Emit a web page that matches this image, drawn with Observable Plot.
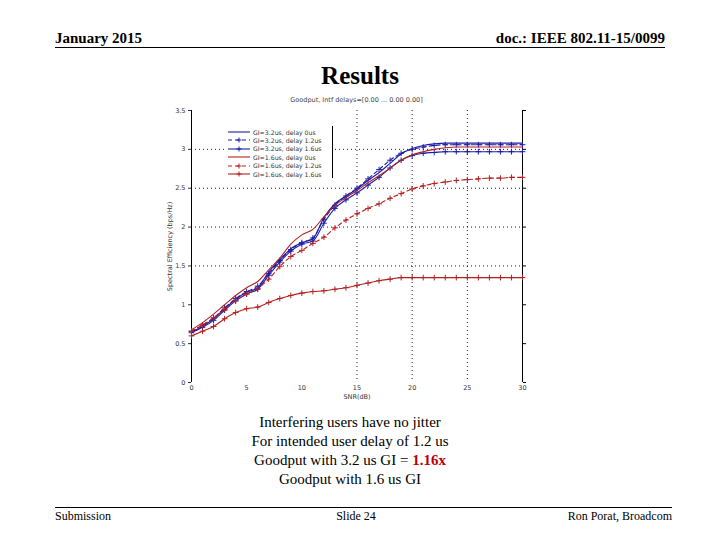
<!DOCTYPE html>
<html><head><meta charset="utf-8">
<script src="https://cdn.jsdelivr.net/npm/d3@7"></script>
<script src="https://cdn.jsdelivr.net/npm/@observablehq/plot@0.6"></script>
<style>
body{margin:0;width:720px;height:540px;background:#fff;position:relative;overflow:hidden;font-family:"Liberation Serif","Times New Roman",serif;}
.abs{position:absolute;}
#legend{position:absolute;left:224px;top:126px;width:108px;height:52px;background:#fff;border-right:1px solid #000;font-family:"DejaVu Sans",sans-serif;font-size:6.2px;color:#333;}
#legend .row{position:absolute;left:4px;height:8px;display:flex;align-items:center;}
#legend svg{margin-right:3px;}
</style></head>
<body>
<div class="abs" style="left:55px;top:30px;font-size:15px;font-weight:bold;">January 2015</div>
<div class="abs" style="right:55px;top:30px;font-size:15px;font-weight:bold;">doc.: IEEE 802.11-15/0099</div>
<div class="abs" style="left:55px;top:47px;width:610px;height:0;border-top:1.5px solid #000;"></div>
<div class="abs" style="left:0;width:720px;top:62px;text-align:center;font-size:25px;font-weight:bold;">Results</div>
<div class="abs" style="left:191px;width:331px;top:96px;text-align:center;font-family:'DejaVu Sans',sans-serif;font-size:6.5px;color:#444;">Goodput, Intf delays=[0.00 ... 0.00 0.00]</div>
<div id="chart" class="abs" style="left:160px;top:95px;"></div>
<div id="legend"></div>
<div class="abs" style="left:0;width:700px;top:413px;text-align:center;font-size:15px;line-height:19px;">
Interfering users have no jitter<br>For intended user delay of 1.2 us<br>Goodput with 3.2 us GI = <span style="color:#c00000;font-weight:bold;">1.16x</span><br>Goodput with 1.6 us GI</div>
<div class="abs" style="left:55px;top:507px;width:617px;height:0;border-top:1.5px solid #000;"></div>
<div class="abs" style="left:55px;top:509px;font-size:12px;">Submission</div>
<div class="abs" style="left:0;width:712px;top:509px;text-align:center;font-size:12px;">Slide 24</div>
<div class="abs" style="right:48px;top:509px;font-size:12px;">Ron Porat, Broadcom</div>
<script>
const snr = d3.range(0, 31);
const seriesNames = ["GI=3.2us, delay 0us","GI=3.2us, delay 1.2us","GI=3.2us, delay 1.6us","GI=1.6us, delay 0us","GI=1.6us, delay 1.2us","GI=1.6us, delay 1.6us"];
const gi32d0 = [0.65,0.72,0.82,0.95,1.07,1.16,1.22,1.42,1.58,1.72,1.80,1.85,2.12,2.30,2.40,2.49,2.60,2.70,2.82,2.94,3.01,3.05,3.07,3.08,3.08,3.08,3.08,3.08,3.08,3.08,3.08];
const gi32d12 = [0.66,0.74,0.83,0.96,1.08,1.17,1.24,1.40,1.57,1.71,1.80,1.86,2.10,2.28,2.40,2.50,2.62,2.74,2.86,2.95,3.00,3.03,3.05,3.06,3.06,3.06,3.06,3.06,3.06,3.06,3.06];
const gi32d16 = [0.64,0.71,0.80,0.93,1.05,1.14,1.20,1.38,1.55,1.69,1.78,1.82,2.05,2.24,2.35,2.44,2.54,2.64,2.76,2.86,2.92,2.95,2.96,2.97,2.97,2.97,2.97,2.97,2.97,2.97,2.97];
const gi16d0 = [0.68,0.77,0.88,1.00,1.12,1.22,1.30,1.45,1.60,1.78,1.90,1.97,2.13,2.28,2.38,2.47,2.57,2.66,2.76,2.86,2.93,2.97,3.00,3.02,3.03,3.03,3.03,3.03,3.03,3.03,3.03];
const gi16d12 = [0.66,0.74,0.83,0.94,1.05,1.14,1.21,1.33,1.49,1.62,1.70,1.79,1.87,1.99,2.09,2.17,2.24,2.30,2.37,2.43,2.49,2.53,2.56,2.58,2.60,2.61,2.62,2.63,2.63,2.64,2.64];
const gi16d16 = [0.60,0.66,0.72,0.82,0.90,0.95,0.97,1.03,1.08,1.12,1.15,1.17,1.18,1.20,1.22,1.25,1.28,1.31,1.33,1.35,1.35,1.35,1.35,1.35,1.35,1.35,1.35,1.35,1.35,1.35,1.35];
const xTicks = [0,5,10,15,20,25,30];
const yTicks = [0,0.5,1,1.5,2,2.5,3,3.5];
const xGrid = [15,20,25];
const yGrid = [1.5,2,2.5,3];

const BLUE = "#1c1ca8", RED = "#b42020";
const styles = [
  {color: BLUE, dash: null, marker: false},
  {color: BLUE, dash: "4,3", marker: true},
  {color: BLUE, dash: null, marker: true},
  {color: RED, dash: null, marker: false},
  {color: RED, dash: "4,3", marker: true},
  {color: RED, dash: null, marker: true}
];
const allSeries = [gi32d0, gi32d12, gi32d16, gi16d0, gi16d12, gi16d16];
const marks = [
  Plot.ruleX(xGrid, {stroke: "#000", strokeDasharray: "1,3", strokeWidth: 0.9}),
  Plot.ruleY(yGrid, {stroke: "#000", strokeDasharray: "1,3", strokeWidth: 0.9}),
  Plot.ruleX([0, 30], {stroke: "#000", strokeWidth: 1}),
  Plot.axisX({ticks: xTicks, tickSize: 0, tickPadding: 3, fontSize: 6.5, fontFamily: "DejaVu Sans", label: "SNR(dB)", labelAnchor: "center", labelArrow: "none", labelOffset: 16, color: "#333"}),
  Plot.axisY({ticks: yTicks, tickSize: 3, tickPadding: 3, fontSize: 6.5, fontFamily: "DejaVu Sans", tickFormat: d => String(d), label: "Spectral Efficiency (bps/Hz)", labelAnchor: "center", labelArrow: "none", labelOffset: 24, color: "#333"}),
  Plot.axisY({anchor: "right", ticks: yTicks, tickSize: 3, tickFormat: () => "", label: null})
];
allSeries.forEach((vals, i) => {
  const data = snr.map((s, j) => ({snr: s, v: vals[j]}));
  const st = styles[i];
  marks.push(Plot.line(data, {x: "snr", y: "v", stroke: st.color, strokeWidth: 1.1, strokeDasharray: st.dash, curve: "monotone-x"}));
  if (st.marker) marks.push(Plot.dot(data, {x: "snr", y: "v", symbol: "plus", r: 2, stroke: st.color, strokeWidth: 1}));
});
const chart = Plot.plot({
  width: 380, height: 310,
  marginLeft: 31, marginRight: 18, marginTop: 15, marginBottom: 23,
  x: {type: "linear", domain: [0, 30]},
  y: {type: "linear", domain: [0, 3.5]},
  style: {background: "transparent"},
  marks
});
document.getElementById("chart").appendChild(chart);

const lg = document.getElementById("legend");
seriesNames.forEach((name, i) => {
  const st = styles[i];
  const row = document.createElement("div");
  row.className = "row";
  row.style.top = (2 + i * 8.4) + "px";
  row.innerHTML = `<svg width="22" height="8"><line x1="0" y1="4" x2="22" y2="4" stroke="${st.color}" stroke-width="1.1" ${st.dash ? `stroke-dasharray="${st.dash}"` : ""}/>${st.marker ? `<path d="M11,1.5V6.5M8.5,4H13.5" stroke="${st.color}" stroke-width="1"/>` : ""}</svg><span>${name}</span>`;
  lg.appendChild(row);
});
</script>
</body></html>
